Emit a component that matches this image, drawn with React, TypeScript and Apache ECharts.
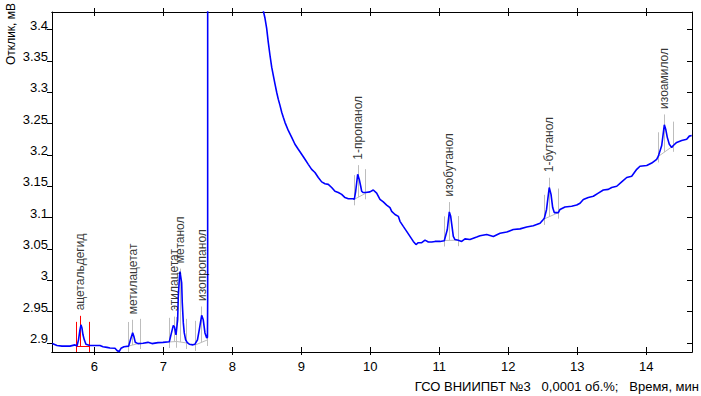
import React, { useEffect, useRef } from "react";
import * as echarts from "echarts";

// Axis ranges and ticks
const X_MIN = 5.387;
const X_MAX = 14.662;
const Y_MIN = 2.8856;
const Y_MAX = 3.428;
const xTicks = [6, 7, 8, 9, 10, 11, 12, 13, 14];
const yTicks = [2.9, 2.95, 3, 3.05, 3.1, 3.15, 3.2, 3.25, 3.3, 3.35, 3.4];

// Chromatogram (time, min / response, mV); 40 = off-scale solvent peak
const retentionTime = [
  5.391, 5.459, 5.532, 5.647, 5.72, 5.749, 5.771, 5.792, 5.807, 5.821, 5.836, 5.855, 5.879, 5.937, 6.01, 6.082,
  6.126, 6.184, 6.227, 6.3, 6.329, 6.358, 6.387, 6.43, 6.498, 6.524, 6.556, 6.575, 6.594, 6.633, 6.706, 6.778,
  6.836, 6.923, 6.995, 7.087, 7.111, 7.145, 7.162, 7.184, 7.208, 7.217, 7.232, 7.242, 7.266, 7.275, 7.29, 7.304,
  7.324, 7.348, 7.377, 7.43, 7.459, 7.495, 7.521, 7.556, 7.579, 7.604, 7.629, 7.64, 7.643, 7.652, 7.654, 8.0,
  8.449, 8.474, 8.498, 8.521, 8.546, 8.571, 8.594, 8.619, 8.643, 8.666, 8.691, 8.716, 8.739, 8.763, 8.811, 8.861,
  8.908, 8.956, 9.005, 9.053, 9.101, 9.15, 9.198, 9.246, 9.295, 9.343, 9.391, 9.44, 9.488, 9.536, 9.585, 9.633,
  9.681, 9.753, 9.768, 9.788, 9.817, 9.84, 9.861, 9.875, 9.894, 9.933, 9.995, 10.043, 10.092, 10.14, 10.188,
  10.237, 10.285, 10.31, 10.358, 10.406, 10.43, 10.478, 10.527, 10.575, 10.623, 10.662, 10.695, 10.745, 10.793,
  10.841, 10.89, 10.938, 11.01, 11.072, 11.116, 11.145, 11.165, 11.184, 11.203, 11.227, 11.275, 11.324, 11.372,
  11.444, 11.542, 11.59, 11.687, 11.783, 11.88, 11.977, 12.072, 12.17, 12.266, 12.362, 12.46, 12.507, 12.522,
  12.554, 12.593, 12.619, 12.643, 12.666, 12.725, 12.749, 12.821, 12.918, 12.991, 13.039, 13.087, 13.159, 13.232,
  13.304, 13.377, 13.449, 13.498, 13.571, 13.643, 13.716, 13.788, 13.861, 13.908, 14.006, 14.078, 14.15, 14.174,
  14.223, 14.261, 14.281, 14.304, 14.333, 14.368, 14.391, 14.44, 14.513, 14.585, 14.623, 14.658,
];
const response = [
  2.899, 2.896, 2.895, 2.895, 2.897, 2.895, 2.905, 2.921, 2.929, 2.924, 2.913, 2.905, 2.898, 2.896, 2.896, 2.896,
  2.894, 2.893, 2.892, 2.8915, 2.888, 2.886, 2.8915, 2.894, 2.895, 2.905, 2.9165, 2.91, 2.901, 2.899, 2.8995, 2.901,
  2.899, 2.9005, 2.901, 2.902, 2.913, 2.928, 2.9256, 2.913, 2.937, 2.974, 3.001, 3.014, 2.996, 2.964, 2.932, 2.916,
  2.905, 2.9005, 2.898, 2.897, 2.898, 2.905, 2.921, 2.944, 2.937, 2.916, 2.908, 2.909, 2.971, 2.971, 40, 40,
  3.43, 3.418, 3.402, 3.38, 3.359, 3.34, 3.327, 3.313, 3.3, 3.289, 3.279, 3.268, 3.26, 3.252, 3.239, 3.228,
  3.217, 3.209, 3.201, 3.193, 3.185, 3.177, 3.172, 3.164, 3.157, 3.154, 3.153, 3.148, 3.142, 3.14, 3.137, 3.132,
  3.13, 3.13, 3.129, 3.142, 3.169, 3.161, 3.15, 3.142, 3.14, 3.14, 3.141, 3.144, 3.139, 3.129, 3.125,
  3.12, 3.116, 3.11, 3.105, 3.102, 3.094, 3.086, 3.078, 3.07, 3.062, 3.057, 3.06, 3.06, 3.064,
  3.061, 3.061, 3.062, 3.062, 3.063, 3.081, 3.109, 3.102, 3.086, 3.07, 3.065, 3.064, 3.062, 3.066,
  3.065, 3.069, 3.071, 3.073, 3.07, 3.075, 3.077, 3.081, 3.082, 3.085, 3.087, 3.091, 3.097, 3.099,
  3.113, 3.148, 3.137, 3.116, 3.108, 3.108, 3.113, 3.117, 3.118, 3.12, 3.123, 3.129, 3.132, 3.134,
  3.139, 3.144, 3.145, 3.148, 3.15, 3.157, 3.164, 3.166, 3.177, 3.182, 3.183, 3.187, 3.193, 3.198,
  3.215, 3.248, 3.241, 3.228, 3.217, 3.212, 3.215, 3.22, 3.223, 3.225, 3.23, 3.231,
];

// Integrated peaks
const peakNames = ["ацетальдегид", "метилацетат", "этилацетат", "метанол", "изопропанол", "1-пропанол", "изобутанол", "1-бутанол", "изоамилол"];
const peakStart = [5.739, 6.495, 7.087, 7.194, 7.463, 9.768, 11.072, 12.522, 14.174];
const peakApex = [5.797, 6.556, 7.16, 7.242, 7.556, 9.826, 11.145, 12.59, 14.261];
const peakEnd = [5.927, 6.669, 7.194, 7.339, 7.638, 9.933, 11.275, 12.725, 14.391];
const baseStart = [2.8952, 2.895, 2.9016, 2.9024, 2.8968, 3.1292, 3.0635, 3.0979, 3.1976];
const baseEnd = [2.8952, 2.9, 2.9024, 2.9, 2.9048, 3.1388, 3.064, 3.1079, 3.2146];
const apexTop = [2.9433, 2.937, 2.9421, 3.0186, 2.9582, 3.1837, 3.1248, 3.1636, 3.2646];
const selectedPeak = 0;

const FONT = "'Liberation Sans', Arial, sans-serif";
const MARK_ABOVE = 0.0385;
const MARK_BELOW = 0.0096;

function peakSegments(i: number) {
  const s = peakStart[i], a = peakApex[i], e = peakEnd[i];
  const bs = baseStart[i], be = baseEnd[i];
  const ba = bs + ((be - bs) * (a - s)) / (e - s);
  return [
    { coords: [[s, bs - MARK_BELOW], [s, bs + MARK_ABOVE]] },
    { coords: [[a, ba], [a, apexTop[i]]] },
    { coords: [[e, be - MARK_BELOW], [e, be + MARK_ABOVE]] },
    { coords: [[s, bs], [e, be]] },
  ];
}

export default function App() {
  const ref = useRef<HTMLDivElement>(null);
  useEffect(() => {
    document.body.style.margin = "0";
    const chart = echarts.init(ref.current!, null, { renderer: "svg" });
    const axisLine = { show: true, onZero: false, lineStyle: { color: "#000", width: 1 } };
    const xBase = { type: "value", min: X_MIN, max: X_MAX, splitLine: { show: false }, axisLine };
    const yBase = { type: "value", min: Y_MIN, max: Y_MAX, splitLine: { show: false }, axisLine };
    const grey: any[] = [];
    const red: any[] = [];
    peakNames.forEach((_, i) => (i === selectedPeak ? red : grey).push(...peakSegments(i)));

    chart.setOption({
      animation: false,
      backgroundColor: "#fff",
      textStyle: { fontFamily: FONT },
      grid: { left: 52, right: 9, top: 12, bottom: 44, containLabel: false },
      xAxis: [
        {
          ...xBase, position: "bottom",
          axisTick: { show: true, inside: true, length: 5, customValues: xTicks, lineStyle: { color: "#000" } },
          axisLabel: { show: true, customValues: xTicks, color: "#000", fontSize: 13, fontFamily: FONT, margin: 8, formatter: (v: number) => String(v) },
        },
        { ...xBase, position: "bottom", axisTick: { show: true, inside: false, length: 3, customValues: xTicks, lineStyle: { color: "#000" } }, axisLabel: { show: false } },
        { ...xBase, position: "top", axisTick: { show: true, inside: true, length: 4, customValues: xTicks, lineStyle: { color: "#000" } }, axisLabel: { show: false } },
        { ...xBase, position: "top", axisTick: { show: true, inside: false, length: 4, customValues: xTicks, lineStyle: { color: "#000" } }, axisLabel: { show: false } },
      ],
      yAxis: [
        {
          ...yBase, position: "left",
          axisTick: { show: true, inside: false, length: 5, customValues: yTicks, lineStyle: { color: "#000" } },
          axisLabel: {
            show: true, customValues: yTicks, color: "#000", fontSize: 13, fontFamily: FONT, margin: 4,
            verticalAlign: "bottom", lineHeight: 9, formatter: (v: number) => String(+v.toFixed(2)),
          },
        },
        { ...yBase, position: "right", axisTick: { show: true, inside: true, length: 5, customValues: yTicks, lineStyle: { color: "#000" } }, axisLabel: { show: false } },
      ],
      series: [
        {
          type: "lines", coordinateSystem: "cartesian2d", data: grey, z: 2, silent: true,
          lineStyle: { color: "#bdbdbd", width: 1, opacity: 1 },
        },
        {
          type: "lines", coordinateSystem: "cartesian2d", data: red, z: 2, silent: true,
          lineStyle: { color: "#ff0000", width: 1, opacity: 1 },
        },
        {
          type: "line", data: retentionTime.map((t, i) => [t, response[i]]), showSymbol: false, symbol: "none",
          clip: true, z: 3, silent: true, lineStyle: { color: "#0000ff", width: 1.6 },
        },
        {
          type: "scatter", data: peakNames.map((n, i) => [peakApex[i], apexTop[i], n]), symbolSize: 1, z: 5, silent: true,
          itemStyle: { color: "rgba(0,0,0,0)" },
          label: {
            show: true, formatter: (p: any) => p.data[2], position: "top", distance: 5, rotate: 90,
            align: "left", verticalAlign: "middle", fontSize: 12, color: "#000", fontFamily: FONT,
          },
        },
      ],
      graphic: [
        {
          type: "text", x: 11, y: 34, rotation: Math.PI / 2,
          style: { text: "Отклик, мВ", fontSize: 12, fontFamily: FONT, fill: "#000", align: "center", verticalAlign: "middle" },
        },
        {
          type: "text", x: 699, y: 386,
          style: {
            text: "ГСО ВНИИПБТ №3\u00a0\u00a0\u00a00,0001 об.%;\u00a0\u00a0\u00a0Время, мин",
            fontSize: 13, fontFamily: FONT, fill: "#000", align: "right", verticalAlign: "middle",
          },
        },
      ],
    });
    return () => chart.dispose();
  }, []);
  return <div ref={ref} style={{ position: "absolute", left: 0, top: 0, width: 701, height: 396 }} />;
}
